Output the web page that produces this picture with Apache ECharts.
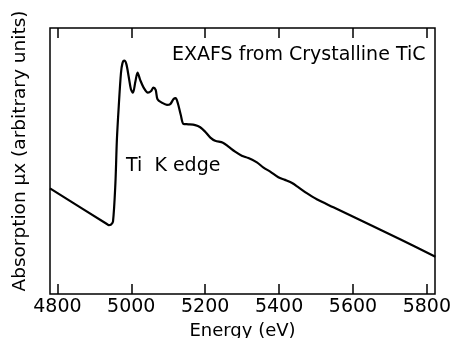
<!DOCTYPE html>
<html>
<head>
<meta charset="utf-8">
<script src="https://cdn.jsdelivr.net/npm/echarts@6/dist/echarts.min.js"></script>
<style>html,body{margin:0;padding:0;background:#fff}#c{width:455px;height:338px}</style>
</head>
<body>
<div id="c"></div>
<script>
const energy = [4780,4934,4939,4945,4950.5,4957,4961,4966,4972,4976,4981,4986.5,4993,4999,5004.5,5011,5017,5024,5033,5045,5053,5060,5066,5071,5083,5096.5,5105.5,5114.5,5120,5126,5134,5141.5,5155,5173,5186.5,5200,5214,5227,5248,5263,5281,5299,5317,5340,5358,5376,5398,5416,5434,5452.5,5475,5502,5547,5637.5,5727.5,5823];
const absorption = [39.7,26.3,25.9,26.1,27.2,41.6,57.9,70.4,83.0,86.7,87.7,86.5,81.7,77.0,75.7,79.8,83.2,80.5,77.7,75.7,76.2,77.6,76.7,73.2,71.9,71.1,71.4,73.3,73.6,71.7,67.3,63.9,63.8,63.5,62.7,61.0,58.8,57.6,56.9,55.4,53.5,52.0,51.1,49.5,47.5,46.0,43.9,42.9,41.8,40.1,37.9,35.6,32.6,26.6,20.6,14.0];
const tickValues = [4800,5000,5200,5400,5600,5800];
const xTitle = 'Energy (eV)';
const yTitle = 'Absorption \u03bcx (arbitrary units)';
const note1 = 'EXAFS from Crystalline TiC';
const note2 = 'Ti  K edge';

const chart = echarts.init(document.getElementById('c'), null, {renderer:'canvas'});
const font = 'DejaVu Sans';
const xMin = 4780, xMax = 5822;
chart.setOption({
  animation:false,
  backgroundColor:'#fff',
  grid:{left:50,right:20,top:28,bottom:44,show:true,borderColor:'#000',borderWidth:1.5,backgroundColor:'transparent',containLabel:false,outerBoundsMode:'none'},
  xAxis:[{
    type:'value',min:xMin,max:xMax,position:'bottom',
    axisLine:{show:false},splitLine:{show:false},
    axisTick:{show:true,inside:true,length:10,customValues:tickValues,lineStyle:{color:'#000',width:1.5}},
    axisLabel:{show:true,customValues:tickValues,color:'#000',fontFamily:font,fontSize:19,margin:4,formatter:v=>String(v)},
    name:xTitle,nameLocation:'middle',nameGap:26,nameTextStyle:{color:'#000',fontFamily:font,fontSize:18}
  },{
    type:'value',min:xMin,max:xMax,position:'top',
    axisLine:{show:false},splitLine:{show:false},
    axisTick:{show:true,inside:true,length:10,customValues:tickValues,lineStyle:{color:'#000',width:1.5}},
    axisLabel:{show:false}
  }],
  yAxis:{
    type:'value',min:0,max:100,
    axisLine:{show:false},axisTick:{show:false},axisLabel:{show:false},splitLine:{show:false}
  },
  series:[{
    type:'line',xAxisIndex:0,
    data:energy.map((e,i)=>[e,absorption[i]]),
    showSymbol:false,smooth:0.3,
    lineStyle:{color:'#000',width:2.2},
    clip:true
  }],
  graphic:[
    {type:'text',left:172,top:46,style:{text:note1,fill:'#000',font:'19px "DejaVu Sans"'}},
    {type:'text',left:126,top:157,style:{text:note2,fill:'#000',font:'19px "DejaVu Sans"'}},
    {type:'text',x:20,y:151,rotation:Math.PI/2,style:{text:yTitle,fill:'#000',font:'18.5px "DejaVu Sans"',align:'center',verticalAlign:'middle'}}
  ]
});
</script>
</body>
</html>
